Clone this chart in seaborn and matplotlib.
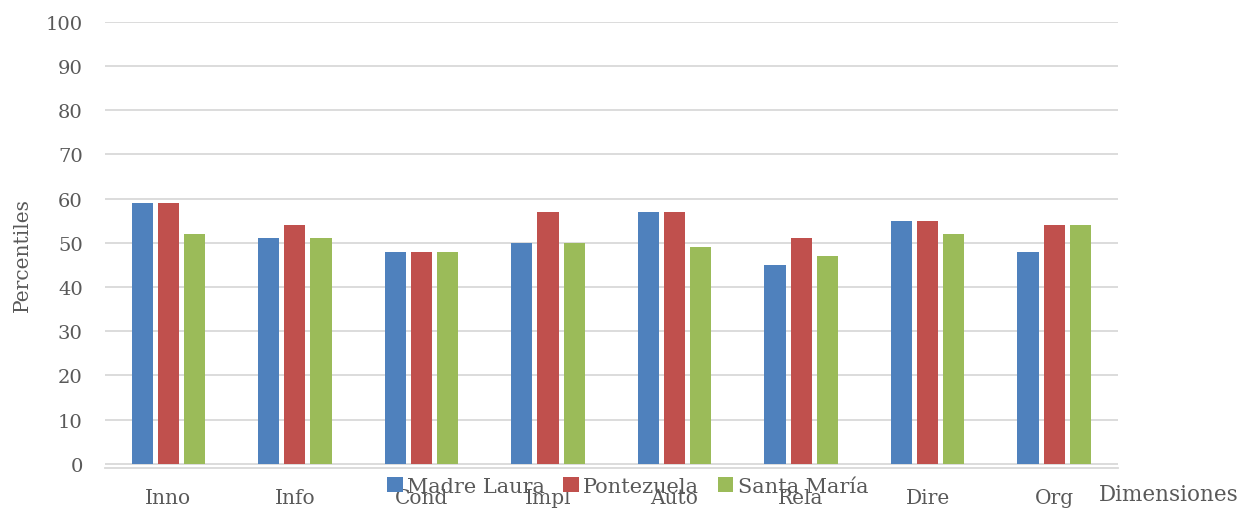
import matplotlib
matplotlib.use("Agg")
import matplotlib.pyplot as plt
import seaborn as sns
import pandas as pd

categories = ["Inno", "Info", "Cond", "Impl", "Auto", "Rela", "Dire", "Org"]
madre_laura = [59, 51, 48, 50, 57, 45, 55, 48]
pontezuela = [59, 54, 48, 57, 57, 51, 55, 54]
santa_maria = [52, 51, 48, 50, 49, 47, 52, 54]
series_names = ["Madre Laura", "Pontezuela", "Santa María"]
colors = ["#4F81BD", "#C0504D", "#9BBB59"]

rows = []
for name, vals in zip(series_names, [madre_laura, pontezuela, santa_maria]):
    for cat, v in zip(categories, vals):
        rows.append({"Dimension": cat, "Institución": name, "Percentil": v})
df = pd.DataFrame(rows)

sns.set_theme(style="white")
plt.rcParams["font.family"] = ["DejaVu Serif"]
text_color = "#595959"
grid_color = "#D9D9D9"

fig = plt.figure(figsize=(12.5, 5.1), dpi=100)
ax = fig.add_axes([0.084, 0.080, 0.810, 0.875])

sns.barplot(data=df, x="Dimension", y="Percentil", hue="Institución",
            order=categories, hue_order=series_names, palette=colors,
            width=0.62, gap=0.19, ax=ax, errorbar=None, saturation=1,
            linewidth=0)

ax.set_ylim(-1, 100)
ax.set_xlim(-0.5, len(categories) - 0.5)
ax.set_yticks(range(0, 101, 10))
ax.yaxis.grid(True, color=grid_color, linewidth=1.3)
ax.set_axisbelow(True)
for side in ["top", "right", "left"]:
    ax.spines[side].set_visible(False)
ax.spines["bottom"].set_color(grid_color)
ax.spines["bottom"].set_linewidth(1.3)

ax.tick_params(axis="y", length=0, pad=16, labelsize=14, labelcolor=text_color)
ax.tick_params(axis="x", length=0, pad=14, labelsize=14.5, labelcolor=text_color)
ax.set_xlabel("")
ax.set_ylabel("")

fig.text(0.018, 0.5, "Percentiles", rotation=90, ha="center", va="center",
         fontsize=14.5, color=text_color)
fig.text(0.879, 0.029, "Dimensiones", ha="left", va="center",
         fontsize=15.5, color=text_color)

ax.get_legend().remove()
handles, labels = ax.get_legend_handles_labels()
fig.legend(handles, labels, loc="center", bbox_to_anchor=(0.502, 0.045),
           ncol=3, frameon=False, fontsize=15, labelcolor=text_color,
           handlelength=0.75, handleheight=0.75, handletextpad=0.2,
           columnspacing=0.9, borderaxespad=0)

fig.savefig("out.png", dpi=100)
